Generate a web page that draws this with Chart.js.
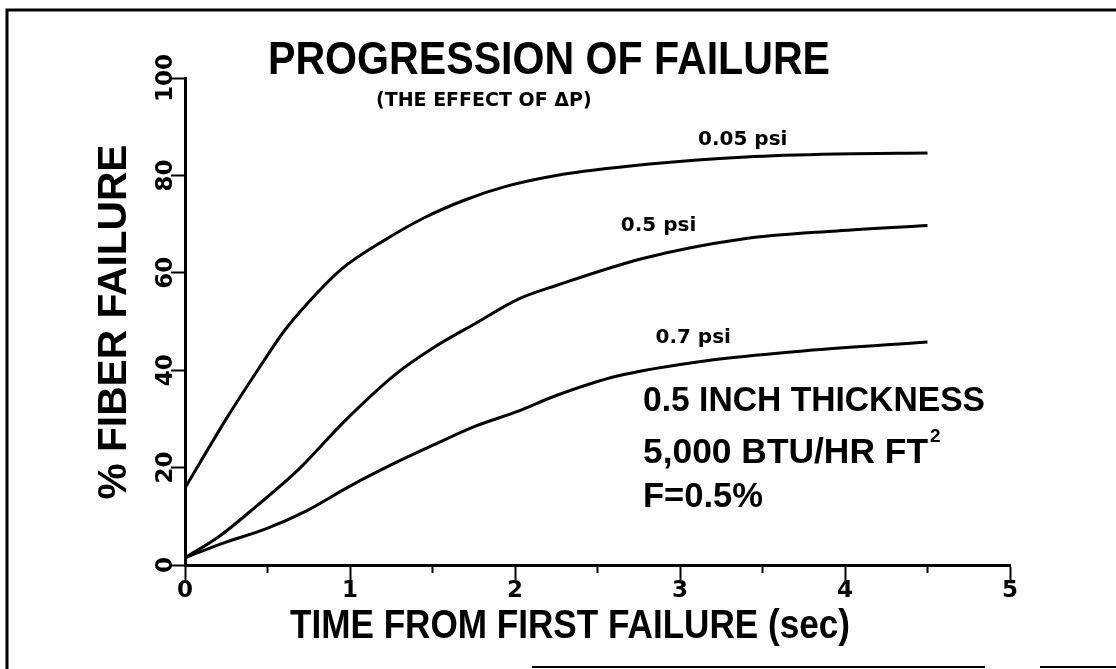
<!DOCTYPE html>
<html>
<head>
<meta charset="utf-8">
<script src="https://cdn.jsdelivr.net/npm/chart.js@4.4.1/dist/chart.umd.min.js"></script>
<style>
  body { margin: 0; background: #fff; }
  canvas { display: block; }
</style>
</head>
<body>
<canvas id="chart" width="1116" height="669"></canvas>
<script>
// readings taken off the figure, time in sec, failure in %
let time_005 = [0, 0.25, 0.45, 0.6, 0.75, 0.95, 1.2, 1.45, 1.7, 1.95, 2.25, 2.8, 3.4, 3.95, 4.5];
let fail_005 = [15.8, 30, 40.5, 48, 54, 60.8, 66.5, 71.3, 75, 77.8, 80, 82.3, 83.8, 84.4, 84.6];

let time_05 = [0, 0.2, 0.43, 0.7, 0.96, 1.27, 1.51, 1.76, 2.02, 2.25, 2.78, 3.37, 3.95, 4.5];
let fail_05 = [1.5, 5.7, 12, 20, 29.3, 39, 44.7, 49.6, 54.6, 57.4, 63, 66.9, 68.6, 69.7];

let time_07 = [0, 0.24, 0.49, 0.73, 1.0, 1.27, 1.51, 1.76, 2.02, 2.25, 2.62, 3.17, 3.76, 4.5];
let fail_07 = [1.5, 4.6, 7.4, 11, 16.2, 20.9, 24.7, 28.5, 31.6, 34.8, 38.8, 42, 44, 45.8];

let curve_labels = ['0.05 psi', '0.5 psi', '0.7 psi'];
let x_ticks = [0, 1, 2, 3, 4, 5];
let y_ticks = [0, 20, 40, 60, 80, 100];

function toPoints(xs, ys) {
    const pts = [];
    for (let i = 0; i < xs.length; i++) {
        pts.push({ x: xs[i], y: ys[i] });
    }
    return pts;
}

function curve(label, xs, ys) {
    return {
        label: label,
        data: toPoints(xs, ys),
        borderColor: '#000',
        borderWidth: 3,
        pointRadius: 0,
        fill: false,
        tension: 0.4,
        cubicInterpolationMode: 'monotone',
    };
}

const tickFont = { family: '"DejaVu Sans"', weight: 'bold', size: 23 };

// the lettering of the original is a narrow helvetica, so squeeze to width
function fitText(ctx, txt, x, y, width, align) {
    const w = ctx.measureText(txt).width;
    const k = width / w;
    ctx.save();
    ctx.translate(x, y);
    ctx.scale(k, 1);
    ctx.textAlign = align;
    ctx.fillText(txt, 0, 0);
    ctx.restore();
    return width;
}

// titles, curve names and the note block
const textPlugin = {
    id: 'texts',
    beforeDraw(chart) {
        const ctx = chart.ctx;
        ctx.save();
        ctx.fillStyle = '#fff';
        ctx.fillRect(0, 0, chart.width, chart.height);
        // frame round the figure
        ctx.strokeStyle = '#000';
        ctx.lineWidth = 3;
        ctx.beginPath();
        ctx.moveTo(7, 669);
        ctx.lineTo(7, 10);
        ctx.lineTo(1116, 10);
        ctx.stroke();
        ctx.lineWidth = 2;
        ctx.beginPath();
        ctx.moveTo(532, 667);
        ctx.lineTo(985, 667);
        ctx.moveTo(1040, 667);
        ctx.lineTo(1116, 667);
        ctx.stroke();
        ctx.restore();
    },
    afterDraw(chart) {
        const ctx = chart.ctx;
        const xs = chart.scales.x;
        const ys = chart.scales.y;
        ctx.save();
        ctx.fillStyle = '#000';
        ctx.textBaseline = 'middle';

        ctx.font = 'bold 47px "Liberation Sans"';
        fitText(ctx, 'PROGRESSION OF FAILURE', 268, 61, 562, 'left');
        ctx.font = 'bold 19px "DejaVu Sans"';
        ctx.textAlign = 'left';
        ctx.fillText('(THE EFFECT OF \u0394P)', 376, 101);

        // curve names, placed in data units
        ctx.textAlign = 'center';
        ctx.font = 'bold 20px "DejaVu Sans"';
        const spots = [[3.38, 87.3], [2.87, 69.6], [3.08, 46.6]];
        curve_labels.forEach((txt, i) => {
            ctx.fillText(txt, xs.getPixelForValue(spots[i][0]), ys.getPixelForValue(spots[i][1]));
        });

        ctx.font = 'bold 35px "Liberation Sans"';
        fitText(ctx, '0.5 INCH THICKNESS', 643, 401, 342, 'left');
        const w2 = fitText(ctx, '5,000 BTU/HR FT', 643, 453, 285, 'left');
        ctx.font = 'bold 19px "Liberation Sans"';
        ctx.textAlign = 'left';
        ctx.fillText('2', 643 + w2 + 2, 437);
        ctx.font = 'bold 35px "Liberation Sans"';
        fitText(ctx, 'F=0.5%', 643, 497, 120, 'left');

        // axis titles
        ctx.font = 'bold 40px "Liberation Sans"';
        fitText(ctx, 'TIME FROM FIRST FAILURE (sec)', 570, 627, 560, 'center');
        ctx.save();
        ctx.translate(115, 322);
        ctx.rotate(-Math.PI / 2);
        ctx.font = 'bold 41px "Liberation Sans"';
        fitText(ctx, '% FIBER FAILURE', 0, 0, 355, 'center');
        ctx.restore();
        ctx.restore();
    }
};

const config = {
    type: 'line',
    data: {
        datasets: [
            curve(curve_labels[0], time_005, fail_005),
            curve(curve_labels[1], time_05, fail_05),
            curve(curve_labels[2], time_07, fail_07),
        ]
    },
    options: {
        responsive: false,
        animation: false,
        devicePixelRatio: 1,
        layout: { padding: { left: 0, top: 78, right: 106, bottom: 0 } },
        plugins: {
            legend: { display: false },
            tooltip: { enabled: false },
        },
        scales: {
            // short ticks every half second, the axis line
            x: {
                type: 'linear',
                position: 'bottom',
                min: 0,
                max: 5,
                ticks: { stepSize: 0.5, display: false },
                grid: { drawOnChartArea: false, tickLength: 8, tickWidth: 2, tickColor: '#000' },
                border: { color: '#000', width: 3 },
                afterFit: s => { s.height = 8; },
            },
            // longer part of the whole-second ticks and their numbers
            x2: {
                type: 'linear',
                position: 'bottom',
                min: 0,
                max: 5,
                afterBuildTicks: s => { s.ticks = x_ticks.map(v => ({ value: v })); },
                ticks: { color: '#000', font: tickFont, padding: -3, maxRotation: 0 },
                grid: { drawOnChartArea: false, tickLength: 7, tickWidth: 2, tickColor: '#000' },
                border: { display: false },
                afterFit: s => { s.height = 96; },
            },
            y: {
                type: 'linear',
                min: 0,
                max: 100,
                ticks: {
                    stepSize: 10,
                    color: '#000',
                    font: tickFont,
                    minRotation: 90,
                    maxRotation: 90,
                    crossAlign: 'center',
                    padding: -19,
                    callback: v => y_ticks.includes(v) ? v : '',
                },
                grid: { drawOnChartArea: false, tickLength: 14, tickWidth: 2, tickColor: '#000' },
                border: { color: '#000', width: 3 },
                afterFit: s => { s.width = 185; },
            },
        },
    },
    plugins: [textPlugin],
};

let myChart = new Chart(document.getElementById('chart'), config);
</script>
</body>
</html>
